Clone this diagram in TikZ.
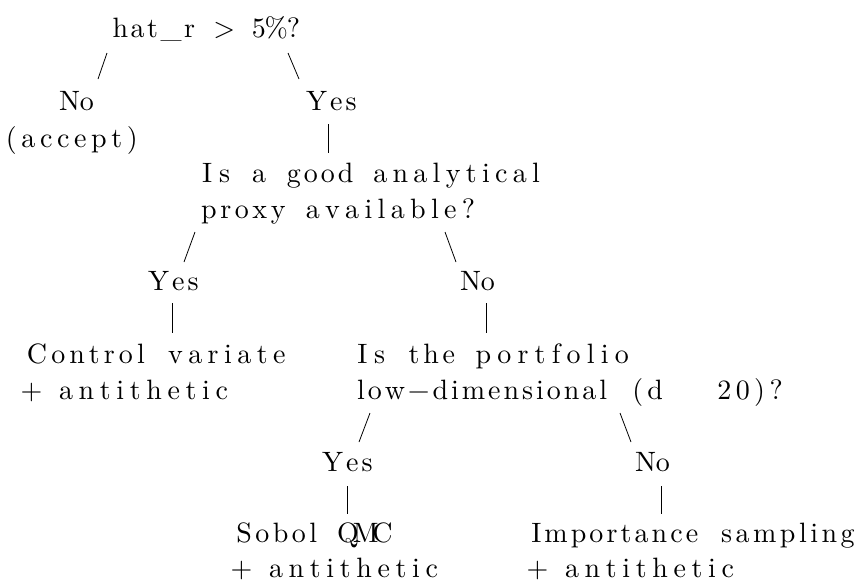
\documentclass[tikz,border=0pt]{standalone}
\usepackage{fontspec}
\newfontfamily\lmplain{lmroman10-regular}[Extension=.otf]
\newdimen\cellw \cellw=17.3pt
\newcount\nch
\newdimen\wfirst \newdimen\wlast \newdimen\wspan
% scan a word: count its characters, keep widths of first and last
\def\jwscan#1{\ifx#1\relax\else\advance\nch1
  \setbox0\hbox{#1}\ifnum\nch=1 \wfirst=\wd0 \fi\wlast=\wd0
  \expandafter\jwscan\fi}
% set the letters with equal (stretchable / shrinkable) gaps
\def\jwbuild#1{\ifx#1\relax\else
  \ifnum\nch>0 \hskip0pt plus1fil minus1fil\relax\fi#1\nch=1
  \expandafter\jwbuild\fi}
% a word that fills its cells: first glyph centred in the first cell,
% last glyph centred in the last cell, even gaps between
\def\jw#1{\nch=0 \jwscan#1\relax
  \wspan=\nch\cellw \advance\wspan-\cellw
  \advance\wspan.5\wfirst \advance\wspan.5\wlast
  \hbox to\nch\cellw{\hskip\dimexpr(\cellw-\wfirst)/2\relax
    \hbox to\wspan{\nch=0 \jwbuild#1\relax}\hss}}
\def\sk{\hbox to\cellw{}}
\begin{document}
\begin{tikzpicture}[x=1pt,y=-1pt,
  txt/.style={anchor=base west,inner sep=0pt,outer sep=0pt,font=\lmplain\fontsize{28}{34}\selectfont},
  conn/.style={line width=0.8pt,black}]
\useasboundingbox (0,0) rectangle (861,582);
% texts
\node[txt] (root) at (111.75,37) {\jw{hat\_r}\sk\jw{>}\sk\jw{5\%?}};
\node[txt] (no1)  at (60.85,110) {\jw{No}};
\node[txt] (acc)  at (2.65,147) {\jw{(accept)}};
\node[txt] (yes1) at (307.85,110) {\jw{Yes}};
\node[txt] (q2a)  at (198.65,182) {\jw{Is}\sk\jw{a}\sk\jw{good}\sk\jw{analytical}};
\node[txt] (q2b)  at (200.35,218) {\jw{proxy}\sk\jw{available?}};
\node[txt] (yes2) at (149.85,290) {\jw{Yes}};
\node[txt] (no2)  at (461.85,290) {\jw{No}};
\node[txt] (cv1)  at (28.45,363) {\jw{Control}\sk\jw{variate}};
\node[txt] (cv2)  at (22.85,399) {\jw{+}\sk\jw{antithetic}};
\node[txt] (q3a)  at (353.65,363) {\jw{Is}\sk\jw{the}\sk\jw{portfolio}};
\node[txt] (q3b)  at (352.35,399) {\jw{low−dimensional}\sk\jw{(d}\sk\sk\sk\jw{20)?}};
\node[txt] (yes3) at (323.85,471) {\jw{Yes}};
\node[txt] (no3)  at (636.85,471) {\jw{No}};
\node[txt] (qmc1) at (235.45,542) {\jw{Sobol}\sk\jw{QMC}};
\node[txt] (qmc2) at (232.85,577) {\jw{+}\sk\jw{antithetic}};
\node[txt] (is1)  at (527.65,542) {\jw{Importance}\sk\jw{sampling}};
\node[txt] (is2)  at (528.85,577) {\jw{+}\sk\jw{antithetic}};
% connector ends
\coordinate (c1a) at (107,53); \coordinate (c1b) at (98,79);
\coordinate (c2a) at (288,53); \coordinate (c2b) at (299,79);
\coordinate (c3a) at (328,124); \coordinate (c3b) at (328,153);
\coordinate (c4a) at (195,232); \coordinate (c4b) at (184,262);
\coordinate (c5a) at (445,232); \coordinate (c5b) at (456,262);
\coordinate (c6a) at (172,303); \coordinate (c6b) at (172,333);
\coordinate (c7a) at (486,303); \coordinate (c7b) at (486,333);
\coordinate (c8a) at (370,413); \coordinate (c8b) at (359,442);
\coordinate (c9a) at (620,413); \coordinate (c9b) at (631,442);
\coordinate (c10a) at (347,486); \coordinate (c10b) at (347,514);
\coordinate (c11a) at (661,486); \coordinate (c11b) at (661,514);
\foreach \i in {1,...,11} \draw[conn] (c\i a) -- (c\i b);
\end{tikzpicture}
\end{document}
